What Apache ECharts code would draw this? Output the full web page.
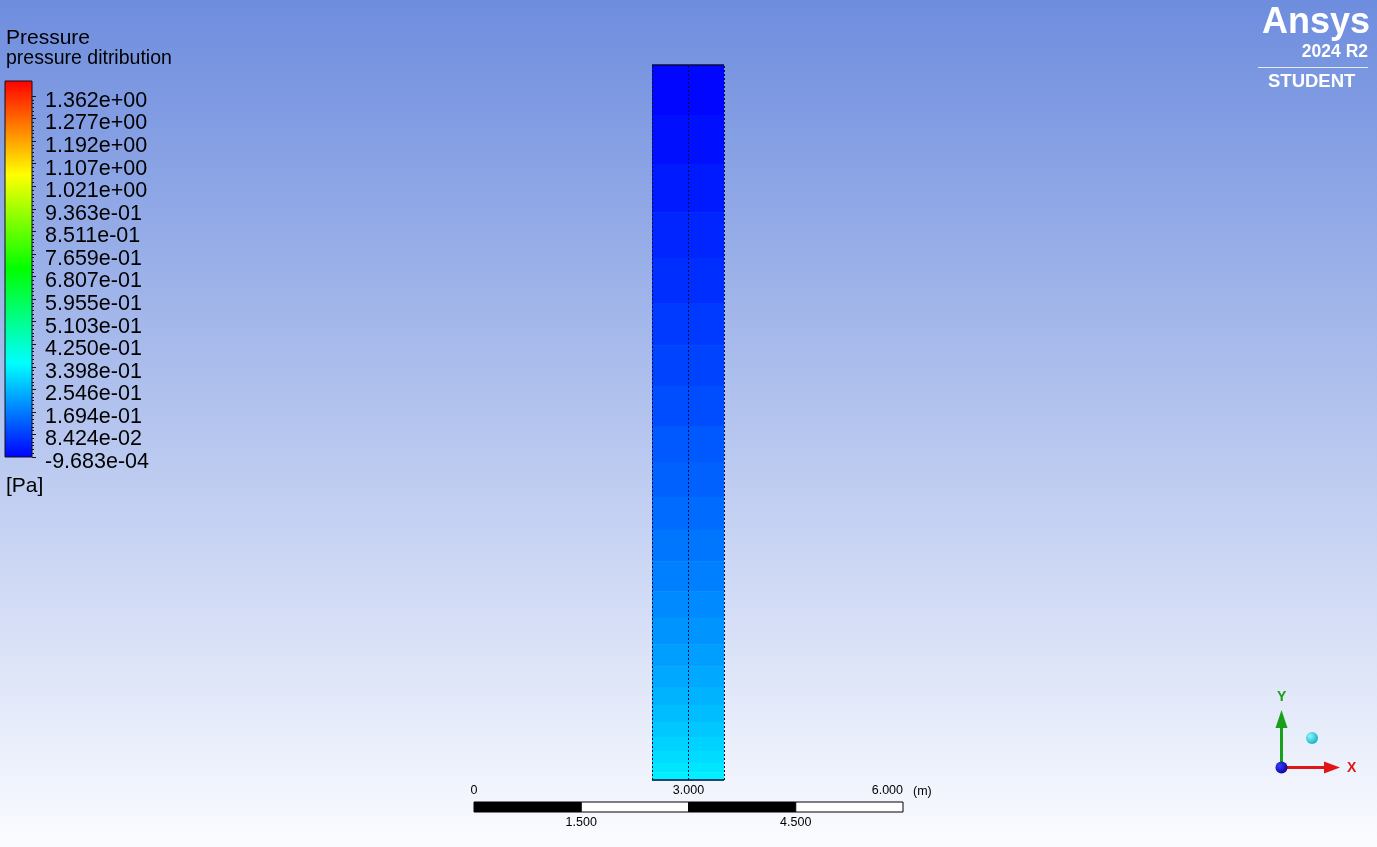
<!DOCTYPE html>
<html>
<head>
<meta charset="utf-8">
<title>Pressure</title>
<script src="https://cdn.jsdelivr.net/npm/echarts@6/dist/echarts.min.js"></script>
<style>
  html, body { margin: 0; padding: 0; }
  #main { width: 1377px; height: 847px; }
</style>
</head>
<body>
<div id="main"></div>
<script>
// contour bands of the column: edges (m, top to bottom) and the pressure of each band (Pa)
var bandEdges = [10, 9.30, 8.62, 7.94, 7.30, 6.67, 6.08, 5.51, 4.95, 4.45, 3.96, 3.50, 3.06,
                 2.64, 2.27, 1.90, 1.59, 1.30, 1.05, 0.81, 0.60, 0.41, 0.24, 0.11, 0];
var bandPressure = [0.007, 0.020, 0.034, 0.048, 0.061, 0.075, 0.088, 0.102, 0.116, 0.129,
                    0.143, 0.157, 0.170, 0.184, 0.197, 0.211, 0.225, 0.238, 0.252, 0.265,
                    0.279, 0.293, 0.306, 0.320];
// colour legend, top to bottom
var legendLabels = ['1.362e+00', '1.277e+00', '1.192e+00', '1.107e+00', '1.021e+00',
                    '9.363e-01', '8.511e-01', '7.659e-01', '6.807e-01', '5.955e-01',
                    '5.103e-01', '4.250e-01', '3.398e-01', '2.546e-01', '1.694e-01',
                    '8.424e-02', '-9.683e-04'];
var pMin = -9.683e-04, pMax = 1.362;
var rainbow = ['#0000ff', '#00ffff', '#00ff00', '#ffff00', '#ff0000'];
// column walls (m)
var wallX = [-0.5, 0, 0.5];
// length scale (m)
var scaleTicks = [0, 1.5, 3, 4.5, 6];

var font = '"Liberation Sans", Arial, sans-serif';
var nLab = legendLabels.length - 1;

var bands = [];
for (var i = 0; i < bandPressure.length; i++) {
  bands.push([wallX[0], wallX[2], bandEdges[i + 1], bandEdges[i], bandPressure[i]]);
}
var segs = [];
for (var j = 0; j < scaleTicks.length - 1; j++) {
  segs.push([scaleTicks[j], scaleTicks[j + 1], j % 2]);
}
var walls = wallX.map(function (x) {
  return [{ coord: [x, bandEdges[bandEdges.length - 1]] }, { coord: [x, bandEdges[0]] }];
});
var caps = [bandEdges[0], bandEdges[bandEdges.length - 1]].map(function (y) {
  return [{ coord: [wallX[0], y] }, { coord: [wallX[2], y] }];
});

var myChart = echarts.init(document.getElementById('main'));
myChart.setOption({
  animation: false,
  backgroundColor: {
    type: 'linear', x: 0, y: 0, x2: 0, y2: 1,
    colorStops: [{ offset: 0, color: '#6e8dde' }, { offset: 1, color: '#fbfcff' }]
  },
  textStyle: { fontFamily: font },
  visualMap: {
    show: false,
    type: 'continuous',
    seriesIndex: 0,
    dimension: 4,
    min: pMin,
    max: pMax,
    inRange: { color: rainbow }
  },
  grid: [
    { left: 652, top: 65, width: 72, height: 715 },   // column
    { left: 5, top: 81, width: 27, height: 376 },     // colour bar
    { left: 5, top: 96, width: 27, height: 361 },     // colour bar ticks
    { left: 474, top: 802, width: 429, height: 10 },  // length scale
    { left: 5, top: 101, width: 27, height: 361 }     // colour bar labels
  ],
  xAxis: [
    { gridIndex: 0, type: 'value', min: -0.5, max: 0.5, show: false },
    { gridIndex: 1, type: 'value', min: 0, max: 1, show: false },
    { gridIndex: 2, type: 'value', min: 0, max: 1, show: false },
    {
      gridIndex: 3, type: 'value', position: 'top', min: 0, max: 6, interval: 3,
      axisLine: { show: false }, axisTick: { show: false }, splitLine: { show: false },
      axisLabel: {
        margin: 5, fontSize: 12.5, color: '#000', alignMaxLabel: 'right',
        formatter: function (v) { return v === 0 ? '0' : v.toFixed(3); }
      }
    },
    {
      gridIndex: 3, type: 'value', position: 'bottom', min: 0, max: 6, interval: 1.5,
      axisLine: { show: false }, axisTick: { show: false }, splitLine: { show: false },
      axisLabel: {
        margin: 4, fontSize: 12.5, color: '#000', showMinLabel: false, showMaxLabel: false,
        formatter: function (v) { return v % 3 === 0 ? '' : v.toFixed(3); }
      }
    },
    { gridIndex: 4, type: 'value', min: 0, max: 1, show: false }
  ],
  yAxis: [
    { gridIndex: 0, type: 'value', min: 0, max: 10, show: false },
    { gridIndex: 1, type: 'value', min: 0, max: 1, show: false },
    {
      gridIndex: 2, type: 'value', position: 'right', min: 0, max: nLab, interval: 1,
      axisLine: { show: false, onZero: false }, splitLine: { show: false },
      axisLabel: { show: false },
      axisTick: { show: true, inside: false, length: 4, lineStyle: { color: '#15152a' } },
      minorTick: { show: true, splitNumber: 6, length: 2, lineStyle: { color: '#15152a' } }
    },
    { gridIndex: 3, type: 'value', min: 0, max: 1, show: false },
    {
      gridIndex: 4, type: 'value', position: 'right', min: 0, max: nLab, interval: 1,
      axisLine: { show: false, onZero: false }, splitLine: { show: false },
      axisTick: { show: false },
      axisLabel: {
        margin: 13, fontSize: 21.5, color: '#000',
        formatter: function (v) { return legendLabels[nLab - v]; }
      }
    }
  ],
  series: [
    {
      name: 'pressure',
      type: 'custom',
      xAxisIndex: 0, yAxisIndex: 0,
      encode: { x: [0, 1], y: [2, 3] },
      data: bands,
      renderItem: function (params, api) {
        var a = api.coord([api.value(0), api.value(3)]);
        var b = api.coord([api.value(1), api.value(2)]);
        return {
          type: 'rect',
          shape: { x: a[0], y: a[1], width: b[0] - a[0], height: b[1] - a[1] + 0.5 },
          style: { fill: api.visual('color') }
        };
      },
      markLine: {
        silent: true, symbol: ['none', 'none'], label: { show: false },
        data: walls.concat(caps).map(function (d, k) {
          var solid = k >= walls.length;
          d[0].lineStyle = solid
            ? { type: 'solid', color: '#0b0b3c', width: 1.5 }
            : { type: [2, 2], color: '#0b0b3c', width: 1 };
          return d;
        })
      }
    },
    {
      name: 'colourbar',
      type: 'custom',
      xAxisIndex: 1, yAxisIndex: 1,
      data: [[0, 1]],
      renderItem: function (params, api) {
        var a = api.coord([0, api.value(1)]);
        var b = api.coord([1, api.value(0)]);
        return {
          type: 'rect',
          shape: { x: a[0], y: a[1], width: b[0] - a[0], height: b[1] - a[1] },
          style: {
            fill: {
              type: 'linear', x: 0, y: 1, x2: 0, y2: 0,
              colorStops: rainbow.map(function (c, k) {
                return { offset: k / (rainbow.length - 1), color: c };
              })
            },
            stroke: '#101018', lineWidth: 1
          }
        };
      }
    },
    {
      name: 'scale',
      type: 'custom',
      xAxisIndex: 3, yAxisIndex: 3,
      data: segs,
      renderItem: function (params, api) {
        var a = api.coord([api.value(0), 1]);
        var b = api.coord([api.value(1), 0]);
        return {
          type: 'rect',
          shape: { x: a[0], y: a[1], width: b[0] - a[0], height: b[1] - a[1] },
          style: { fill: api.value(2) ? '#ffffff' : '#000000', stroke: '#000', lineWidth: 1 }
        };
      }
    }
  ],
  graphic: [
    { type: 'text', left: 6, top: 28, style: { text: 'Pressure', fontSize: 21, fontFamily: font, fill: '#000' } },
    { type: 'text', left: 6, top: 49, style: { text: 'pressure ditribution', fontSize: 19.5, fontFamily: font, fill: '#000' } },
    { type: 'text', left: 6, top: 476, style: { text: '[Pa]', fontSize: 21, fontFamily: font, fill: '#000' } },
    { type: 'text', left: 913, top: 785, style: { text: '(m)', fontSize: 12.5, fontFamily: font, fill: '#000' } },
    // logo
    { type: 'text', right: 7, top: 5, style: { text: 'Ansys', fontSize: 36, fontWeight: 'bold', fontFamily: font, fill: '#ffffff' } },
    { type: 'text', right: 9, top: 43, style: { text: '2024 R2', fontSize: 17.5, fontWeight: 'bold', fontFamily: font, fill: '#ffffff' } },
    { type: 'line', shape: { x1: 1258, y1: 67.5, x2: 1368, y2: 67.5 }, style: { stroke: '#e4eaf8', lineWidth: 1 } },
    { type: 'text', left: 1268, top: 72, style: { text: 'STUDENT', fontSize: 18.5, fontWeight: 'bold', fontFamily: font, fill: '#ffffff' } },
    // axis triad
    { type: 'line', shape: { x1: 1281.5, y1: 764, x2: 1281.5, y2: 725 }, style: { stroke: '#18a018', lineWidth: 3 } },
    { type: 'polygon', shape: { points: [[1275.5, 728], [1287.5, 728], [1281.5, 710]] }, style: { fill: '#18a018' } },
    { type: 'line', shape: { x1: 1285, y1: 767.5, x2: 1327, y2: 767.5 }, style: { stroke: '#e01616', lineWidth: 3 } },
    { type: 'polygon', shape: { points: [[1324, 761.5], [1324, 773.5], [1340, 767.5]] }, style: { fill: '#e01616' } },
    {
      type: 'circle', shape: { cx: 1281.5, cy: 767.5, r: 6 },
      style: { fill: { type: 'radial', x: 0.35, y: 0.35, r: 0.8, colorStops: [{ offset: 0, color: '#3a3aff' }, { offset: 1, color: '#00008a' }] } }
    },
    {
      type: 'circle', shape: { cx: 1312, cy: 738, r: 6 },
      style: { fill: { type: 'radial', x: 0.35, y: 0.35, r: 0.8, colorStops: [{ offset: 0, color: '#8ff6ff' }, { offset: 1, color: '#00a8b8' }] } }
    },
    { type: 'text', left: 1277, top: 690, style: { text: 'Y', fontSize: 14, fontWeight: 'bold', fontFamily: font, fill: '#18a018' } },
    { type: 'text', left: 1347, top: 761, style: { text: 'X', fontSize: 14, fontWeight: 'bold', fontFamily: font, fill: '#e01616' } }
  ]
});
</script>
</body>
</html>
